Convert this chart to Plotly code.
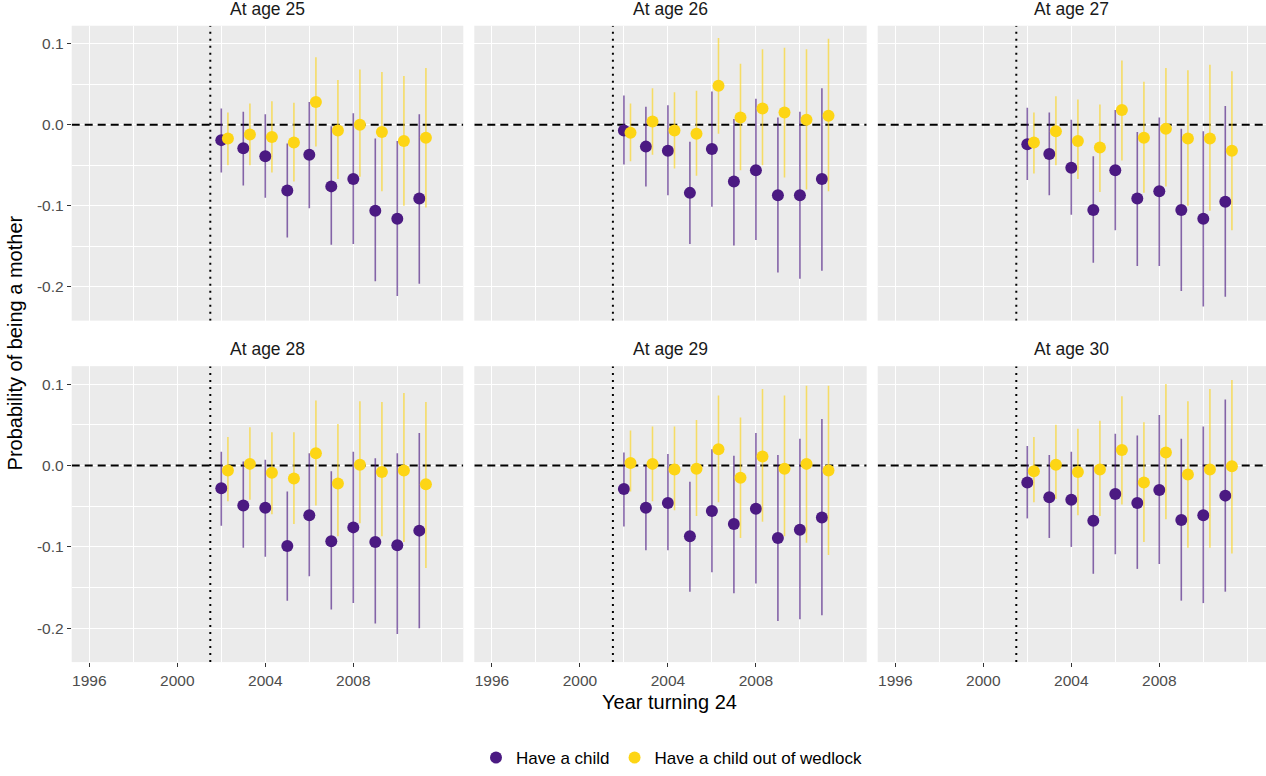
import plotly.graph_objects as go

# ---------------- data ----------------
years = [2002, 2003, 2004, 2005, 2006, 2007, 2008, 2009, 2010, 2011]
panel_titles = ["At age 25", "At age 26", "At age 27", "At age 28", "At age 29", "At age 30"]
series_names = ["Have a child", "Have a child out of wedlock"]
x_tick_vals = [1996, 2000, 2004, 2008]
x_tick_text = ["1996", "2000", "2004", "2008"]
y_tick_vals = [-0.2, -0.1, 0.0, 0.1]
y_tick_text = ["-0.2", "-0.1", "0.0", "0.1"]
policy_year = 2001.5
reference_level = 0.0

# age 25
child_est_25 = [-0.019, -0.029, -0.039, -0.081, -0.037, -0.076, -0.067, -0.106, -0.116, -0.091]
child_lo_25 = [-0.059, -0.075, -0.090, -0.139, -0.103, -0.148, -0.147, -0.193, -0.211, -0.196]
child_hi_25 = [0.020, 0.016, 0.013, -0.023, 0.028, -0.002, 0.014, -0.017, -0.020, 0.013]
wed_est_25 = [-0.017, -0.012, -0.015, -0.022, 0.028, -0.007, 0.000, -0.009, -0.020, -0.016]
wed_lo_25 = [-0.050, -0.050, -0.059, -0.070, -0.027, -0.067, -0.064, -0.082, -0.100, -0.102]
wed_hi_25 = [0.015, 0.026, 0.029, 0.027, 0.083, 0.055, 0.068, 0.065, 0.060, 0.070]

# age 26
child_est_26 = [-0.007, -0.027, -0.032, -0.084, -0.030, -0.070, -0.056, -0.087, -0.087, -0.067]
child_lo_26 = [-0.049, -0.076, -0.087, -0.147, -0.101, -0.149, -0.142, -0.182, -0.190, -0.180]
child_hi_26 = [0.036, 0.022, 0.024, -0.021, 0.041, 0.007, 0.032, 0.009, 0.016, 0.045]
wed_est_26 = [-0.010, 0.004, -0.007, -0.011, 0.048, 0.009, 0.020, 0.015, 0.006, 0.011]
wed_lo_26 = [-0.045, -0.037, -0.054, -0.063, -0.011, -0.056, -0.050, -0.065, -0.080, -0.082]
wed_hi_26 = [0.026, 0.045, 0.040, 0.042, 0.107, 0.075, 0.093, 0.095, 0.093, 0.106]

# age 27
child_est_27 = [-0.024, -0.036, -0.053, -0.105, -0.056, -0.091, -0.082, -0.105, -0.116, -0.095]
child_lo_27 = [-0.068, -0.087, -0.111, -0.170, -0.130, -0.174, -0.174, -0.205, -0.224, -0.212]
child_hi_27 = [0.021, 0.015, 0.006, -0.039, 0.018, -0.009, 0.009, -0.005, -0.008, 0.023]
wed_est_27 = [-0.022, -0.008, -0.020, -0.028, 0.018, -0.016, -0.005, -0.017, -0.017, -0.032]
wed_lo_27 = [-0.060, -0.050, -0.067, -0.083, -0.044, -0.084, -0.076, -0.100, -0.106, -0.130]
wed_hi_27 = [0.015, 0.035, 0.031, 0.025, 0.079, 0.053, 0.070, 0.067, 0.074, 0.066]

# age 28
child_est_28 = [-0.028, -0.049, -0.052, -0.099, -0.061, -0.093, -0.076, -0.094, -0.098, -0.080]
child_lo_28 = [-0.074, -0.101, -0.112, -0.166, -0.136, -0.177, -0.169, -0.194, -0.207, -0.200]
child_hi_28 = [0.017, 0.005, 0.007, -0.032, 0.015, -0.007, 0.017, 0.009, 0.015, 0.040]
wed_est_28 = [-0.006, 0.002, -0.009, -0.016, 0.015, -0.022, 0.001, -0.008, -0.006, -0.023]
wed_lo_28 = [-0.044, -0.042, -0.060, -0.072, -0.049, -0.087, -0.071, -0.087, -0.094, -0.126]
wed_hi_28 = [0.035, 0.047, 0.041, 0.041, 0.080, 0.051, 0.079, 0.078, 0.089, 0.078]

# age 29
child_est_29 = [-0.029, -0.052, -0.046, -0.087, -0.056, -0.072, -0.053, -0.089, -0.079, -0.064]
child_lo_29 = [-0.075, -0.104, -0.104, -0.155, -0.131, -0.157, -0.145, -0.191, -0.189, -0.184]
child_hi_29 = [0.016, 0.000, 0.014, -0.020, 0.020, 0.012, 0.040, 0.013, 0.033, 0.057]
wed_est_29 = [0.003, 0.002, -0.005, -0.004, 0.020, -0.015, 0.011, -0.004, 0.002, -0.006]
wed_lo_29 = [-0.032, -0.044, -0.055, -0.062, -0.045, -0.089, -0.069, -0.087, -0.095, -0.110]
wed_hi_29 = [0.043, 0.048, 0.048, 0.056, 0.086, 0.059, 0.094, 0.086, 0.098, 0.098]

# age 30
child_est_30 = [-0.021, -0.039, -0.042, -0.068, -0.035, -0.046, -0.030, -0.067, -0.061, -0.037]
child_lo_30 = [-0.065, -0.089, -0.100, -0.133, -0.109, -0.127, -0.121, -0.166, -0.169, -0.155]
child_hi_30 = [0.024, 0.013, 0.017, -0.001, 0.039, 0.037, 0.062, 0.033, 0.048, 0.081]
wed_est_30 = [-0.007, 0.001, -0.008, -0.005, 0.019, -0.021, 0.016, -0.011, -0.005, -0.001]
wed_lo_30 = [-0.045, -0.041, -0.061, -0.062, -0.048, -0.094, -0.066, -0.101, -0.101, -0.108]
wed_hi_30 = [0.035, 0.050, 0.045, 0.055, 0.085, 0.053, 0.100, 0.079, 0.094, 0.105]

panels = [
    (child_est_25, child_lo_25, child_hi_25, wed_est_25, wed_lo_25, wed_hi_25),
    (child_est_26, child_lo_26, child_hi_26, wed_est_26, wed_lo_26, wed_hi_26),
    (child_est_27, child_lo_27, child_hi_27, wed_est_27, wed_lo_27, wed_hi_27),
    (child_est_28, child_lo_28, child_hi_28, wed_est_28, wed_lo_28, wed_hi_28),
    (child_est_29, child_lo_29, child_hi_29, wed_est_29, wed_lo_29, wed_hi_29),
    (child_est_30, child_lo_30, child_hi_30, wed_est_30, wed_lo_30, wed_hi_30),
]

# ---------------- layout geometry / styles ----------------
W, H = 1266, 776
FONT = "Liberation Sans, Arial, sans-serif"
col_px = [(71.7, 463.3), (474.3, 866.7), (877.7, 1266.0)]
row_px = [(26.0, 324.0), (370.0, 669.0)]
X0, X1 = 1995.2, 2013.0
px_per_year = (col_px[0][1] - col_px[0][0]) / (X1 - X0)
Y_RANGE = [-0.2415, 0.122]
DODGE = 0.3

purple = "#4B1A82"
purple_line = "rgba(75,26,130,0.65)"
yellow = "#FDD515"
yellow_line = "rgba(250,212,30,0.65)"
bg = "#EBEBEB"

fig = go.Figure()
layout_axes = {}
annotations = []

for i, (ce, clo, chi, we, wlo, whi) in enumerate(panels):
    r, c = divmod(i, 3)
    n = i + 1
    xa = "x" if n == 1 else f"x{n}"
    ya = "y" if n == 1 else f"y{n}"
    xkey = "xaxis" if n == 1 else f"xaxis{n}"
    ykey = "yaxis" if n == 1 else f"yaxis{n}"
    l_px, r_px = col_px[c]
    t_px, b_px = row_px[r]
    x_range = [X0, X0 + (r_px - l_px) / px_per_year]

    # reference lines (drawn first so the points sit on top)
    fig.add_trace(go.Scatter(
        x=x_range, y=[reference_level, reference_level], mode="lines",
        line=dict(color="black", width=2, dash="8px,5px"),
        showlegend=False, hoverinfo="skip", xaxis=xa, yaxis=ya))
    fig.add_trace(go.Scatter(
        x=[policy_year, policy_year], y=Y_RANGE, mode="lines",
        line=dict(color="black", width=2, dash="2px,5px"),
        showlegend=False, hoverinfo="skip", xaxis=xa, yaxis=ya))

    fig.add_trace(go.Scatter(
        x=years, y=ce, mode="markers", name=series_names[0],
        legendgroup="child", showlegend=(i == 0),
        marker=dict(color=purple, size=12, line=dict(width=0)),
        error_y=dict(type="data", symmetric=False,
                     array=[h - e for h, e in zip(chi, ce)],
                     arrayminus=[e - l for e, l in zip(ce, clo)],
                     color=purple_line, thickness=1.6, width=0),
        xaxis=xa, yaxis=ya, hoverinfo="skip"))
    fig.add_trace(go.Scatter(
        x=[yv + DODGE for yv in years], y=we, mode="markers", name=series_names[1],
        legendgroup="wed", showlegend=(i == 0),
        marker=dict(color=yellow, size=12, line=dict(width=0)),
        error_y=dict(type="data", symmetric=False,
                     array=[h - e for h, e in zip(whi, we)],
                     arrayminus=[e - l for e, l in zip(we, wlo)],
                     color=yellow_line, thickness=1.6, width=0),
        xaxis=xa, yaxis=ya, hoverinfo="skip"))

    bottom = (r == 1)
    left = (c == 0)
    layout_axes[xkey] = dict(
        domain=[l_px / W, r_px / W],
        range=x_range,
        anchor=ya, tickmode="array", tickvals=x_tick_vals, ticktext=x_tick_text,
        showticklabels=bottom, ticks="outside" if bottom else "",
        ticklen=4, tickwidth=1.1, tickcolor="#333333",
        tickfont=dict(family=FONT, size=15.5, color="#4D4D4D"),
        showgrid=True, gridcolor="white", gridwidth=1.2,
        minor=dict(tickvals=[1998, 2002, 2006, 2010, 2012], showgrid=True,
                   gridcolor="white", gridwidth=0.6, ticks=""),
        zeroline=False, showline=False, fixedrange=True,
    )
    layout_axes[ykey] = dict(
        domain=[(H - b_px) / H, (H - t_px) / H],
        range=Y_RANGE, anchor=xa, tickmode="array",
        tickvals=y_tick_vals, ticktext=y_tick_text,
        showticklabels=left, ticks="outside" if left else "",
        ticklen=4, tickwidth=1.1, tickcolor="#333333",
        tickfont=dict(family=FONT, size=15.5, color="#4D4D4D"),
        showgrid=True, gridcolor="white", gridwidth=1.2,
        minor=dict(tickvals=[-0.15, -0.05, 0.05], showgrid=True,
                   gridcolor="white", gridwidth=0.6, ticks=""),
        zeroline=False, showline=False, fixedrange=True,
    )

    annotations.append(dict(text=panel_titles[i], xref="paper", yref="paper",
                            x=(l_px + min(r_px, l_px + 391.6)) / 2 / W,
                            y=(H - (t_px - 17)) / H, xanchor="center", yanchor="middle",
                            showarrow=False,
                            font=dict(family=FONT, size=17.5, color="#1A1A1A")))

annotations.append(dict(text="Year turning 24", xref="paper", yref="paper",
                        x=669 / W, y=(H - 709) / H, xanchor="center", yanchor="middle",
                        showarrow=False, font=dict(family=FONT, size=20, color="black")))
annotations.append(dict(text="Probability of being a mother", xref="paper", yref="paper",
                        x=15 / W, y=(H - 347) / H, xanchor="center", yanchor="middle",
                        textangle=-90, showarrow=False,
                        font=dict(family=FONT, size=20, color="black")))

fig.update_layout(
    width=W, height=H,
    margin=dict(l=0, r=0, t=0, b=0),
    paper_bgcolor="white", plot_bgcolor=bg,
    showlegend=True,
    legend=dict(orientation="h", x=672 / W, y=(H - 766) / H,
                xanchor="center", yanchor="middle",
                font=dict(family=FONT, size=17, color="black"),
                itemwidth=30, tracegroupgap=0, bgcolor="rgba(0,0,0,0)"),
    annotations=annotations,
    **layout_axes,
)

fig.write_html(
    "out.html",
    config={"displayModeBar": False},
    post_script="document.body.style.margin='0';document.body.style.padding='0';"
                "document.body.style.overflow='hidden';",
)
